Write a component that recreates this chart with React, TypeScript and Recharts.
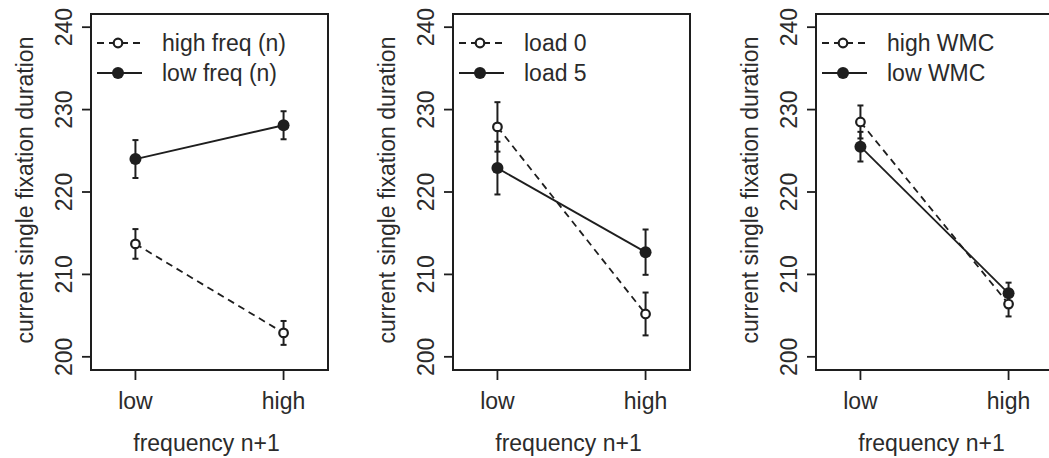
import React from "react";
import {
  LineChart,
  Line,
  XAxis,
  YAxis,
  ErrorBar,
  ReferenceArea,
  Label,
} from "recharts";

// category positions on the x scale: low = 1, high = 2
const categories = ["low", "high"];
const yTicks = [200, 210, 220, 230, 240];

const freqHighMean = [213.7, 202.9];
const freqHighErr = [1.8, 1.45];
const freqLowMean = [224.0, 228.1];
const freqLowErr = [2.3, 1.7];

const load0Mean = [227.9, 205.2];
const load0Err = [3.0, 2.6];
const load5Mean = [222.9, 212.7];
const load5Err = [3.2, 2.75];

const wmcHighMean = [228.5, 206.4];
const wmcHighErr = [2.0, 1.5];
const wmcLowMean = [225.5, 207.7];
const wmcLowErr = [1.8, 1.3];

const panels = [
  {
    left: 0,
    labels: ["high freq (n)", "low freq (n)"],
    dashed: freqHighMean,
    dashedErr: freqHighErr,
    solid: freqLowMean,
    solidErr: freqLowErr,
  },
  {
    left: 362,
    labels: ["load 0", "load 5"],
    dashed: load0Mean,
    dashedErr: load0Err,
    solid: load5Mean,
    solidErr: load5Err,
  },
  {
    left: 725,
    labels: ["high WMC", "low WMC"],
    dashed: wmcHighMean,
    dashedErr: wmcHighErr,
    solid: wmcLowMean,
    solidErr: wmcLowErr,
  },
];

const INK = "#1e1e1e";
const TEXT = "#2b2b2b";
const FONT = "'Liberation Sans', Arial, sans-serif";
const FS = 23;

const X_DOMAIN: [number, number] = [0.7, 2.3];
const Y_DOMAIN: [number, number] = [198.4, 241.6];

const OpenDot = (props: any) => {
  const { cx, cy } = props;
  if (cx == null || cy == null) return null;
  return <circle cx={cx} cy={cy} r={4.3} fill="#fff" stroke={INK} strokeWidth={2.2} />;
};

const FilledDot = (props: any) => {
  const { cx, cy } = props;
  if (cx == null || cy == null) return null;
  return <circle cx={cx} cy={cy} r={6} fill={INK} />;
};

const XTick = (props: any) => {
  const { x, y, payload } = props;
  return (
    <text
      x={x}
      y={y + 21}
      dy="0.35em"
      textAnchor="middle"
      fontFamily={FONT}
      fontSize={FS}
      fill={TEXT}
    >
      {categories[payload.value - 1]}
    </text>
  );
};

const YTick = (props: any) => {
  const { x, y, payload } = props;
  return (
    <text
      transform={`translate(${x - 18},${y}) rotate(-90)`}
      dy="0.35em"
      textAnchor="middle"
      fontFamily={FONT}
      fontSize={FS}
      fill={TEXT}
    >
      {payload.value}
    </text>
  );
};

function LegendBox({ labels }: { labels: string[] }) {
  return (
    <svg
      width={240}
      height={90}
      style={{ position: "absolute", left: 91, top: 20, overflow: "visible" }}
    >
      {labels.map((lab, i) => {
        const y = 23 + i * 30;
        const dashed = i === 0;
        return (
          <g key={lab}>
            <line
              x1={6}
              x2={51}
              y1={y}
              y2={y}
              stroke={INK}
              strokeWidth={1.8}
              strokeDasharray={dashed ? "7 5" : undefined}
            />
            {dashed ? (
              <circle cx={27} cy={y} r={4.3} fill="#fff" stroke={INK} strokeWidth={2.2} />
            ) : (
              <circle cx={27} cy={y} r={6} fill={INK} />
            )}
            <text
              x={71}
              y={y}
              dy="0.35em"
              fontFamily={FONT}
              fontSize={FS}
              fill={TEXT}
            >
              {lab}
            </text>
          </g>
        );
      })}
    </svg>
  );
}

function Panel(p: (typeof panels)[number]) {
  const data = categories.map((c, i) => ({
    x: i + 1,
    dashed: p.dashed[i],
    dashedErr: p.dashedErr[i],
    solid: p.solid[i],
    solidErr: p.solidErr[i],
  }));

  return (
    <div style={{ position: "absolute", left: p.left, top: 0, width: 350, height: 458 }}>
      <LineChart
        width={350}
        height={458}
        data={data}
        margin={{ top: 14, right: 22, bottom: 0, left: 0 }}
      >
        <XAxis
          dataKey="x"
          type="number"
          domain={X_DOMAIN}
          ticks={[1, 2]}
          height={88}
          axisLine={false}
          tickLine={{ stroke: INK, strokeWidth: 1.8 }}
          tickSize={10}
          tickMargin={0}
          tick={<XTick />}
          allowDataOverflow
        >
          <Label
            content={(lp: any) => {
              const vb = lp.viewBox || {};
              return (
                <text
                  x={vb.x + vb.width / 2 - 3}
                  y={443}
                  dy="0.35em"
                  textAnchor="middle"
                  fontFamily={FONT}
                  fontSize={FS}
                  fill={TEXT}
                >
                  frequency n+1
                </text>
              );
            }}
          />
        </XAxis>
        <YAxis
          type="number"
          domain={Y_DOMAIN}
          ticks={yTicks}
          width={91}
          axisLine={false}
          tickLine={{ stroke: INK, strokeWidth: 1.8 }}
          tickSize={9}
          tickMargin={0}
          tick={<YTick />}
          allowDataOverflow
        >
          <Label
            content={(lp: any) => {
              const vb = lp.viewBox || {};
              const cy = vb.y + vb.height / 2 - 2;
              return (
                <text
                  transform={`translate(25,${cy}) rotate(-90)`}
                  dy="0.35em"
                  textAnchor="middle"
                  fontFamily={FONT}
                  fontSize={FS}
                  fill={TEXT}
                >
                  current single fixation duration
                </text>
              );
            }}
          />
        </YAxis>
        <ReferenceArea
          x1={X_DOMAIN[0]}
          x2={X_DOMAIN[1]}
          y1={Y_DOMAIN[0]}
          y2={Y_DOMAIN[1]}
          fill="none"
          fillOpacity={0}
          stroke={INK}
          strokeWidth={2}
          ifOverflow="visible"
        />
        <Line
          dataKey="dashed"
          stroke={INK}
          strokeWidth={1.8}
          strokeDasharray="7 5"
          dot={<OpenDot />}
          activeDot={false}
          isAnimationActive={false}
        >
          <ErrorBar dataKey="dashedErr" direction="y" width={3} stroke={INK} strokeWidth={2} />
        </Line>
        <Line
          dataKey="solid"
          stroke={INK}
          strokeWidth={1.8}
          dot={<FilledDot />}
          activeDot={false}
          isAnimationActive={false}
        >
          <ErrorBar dataKey="solidErr" direction="y" width={3} stroke={INK} strokeWidth={2} />
        </Line>
      </LineChart>
      <LegendBox labels={p.labels} />
    </div>
  );
}

export default function App() {
  return (
    <div
      style={{
        position: "absolute",
        left: 0,
        top: 0,
        width: 1049,
        height: 458,
        overflow: "hidden",
        background: "#fff",
      }}
    >
      {panels.map((p) => (
        <Panel key={p.labels[0]} {...p} />
      ))}
    </div>
  );
}
